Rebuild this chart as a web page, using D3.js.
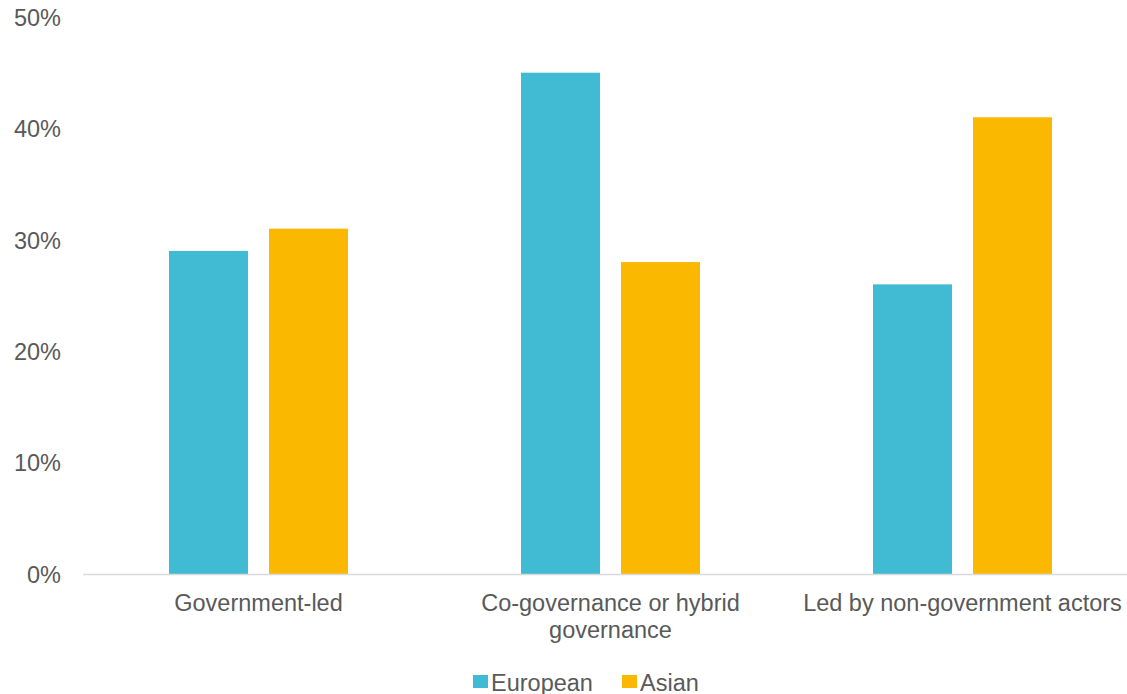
<!DOCTYPE html>
<html>
<head>
<meta charset="utf-8">
<script src="https://cdn.jsdelivr.net/npm/d3@7"></script>
<style>
  html, body { margin: 0; padding: 0; background: #fff; }
  svg { display: block; }
  text { font-family: "Liberation Sans", Arial, sans-serif; fill: #595959; }
</style>
</head>
<body>
<svg id="chart" width="1127" height="694"></svg>
<script>
// Share of initiatives by governance model, per region
const categories = ["Government-led", "Co-governance or hybrid governance", "Led by non-government actors"];
const categoryLines = [["Government-led"], ["Co-governance or hybrid", "governance"], ["Led by non-government actors"]];
const seriesNames = ["European", "Asian"];
const european = [29, 45, 26];
const asian = [31, 28, 41];
const yTicks = [0, 10, 20, 30, 40, 50];
const colors = ["#41BAD3", "#FAB800"];

const svg = d3.select("#chart");
const fontSize = 23.5;

const y = d3.scaleLinear().domain([0, 50]).range([574, 17]);
const x0 = d3.scaleBand().domain(categories).range([82.5, 1138.5]).padding(0);
const groupWidth = 179;
const x1 = d3.scaleBand().domain(seriesNames).range([0, groupWidth]).paddingInner(0.21).paddingOuter(0);

const values = [european, asian];

// y tick labels (no gridlines)
const yAxis = d3.axisLeft(y).tickValues(yTicks).tickFormat(d => d + "%").tickSize(0).tickPadding(0);
const gy = svg.append("g").attr("transform", "translate(61,0)").call(yAxis);
gy.select(".domain").remove();
gy.selectAll("text")
  .style("font-size", fontSize + "px")
  .style("font-family", "'Liberation Sans', Arial, sans-serif")
  .attr("fill", "#595959")
  .attr("dy", "0.35em");

// bars
categories.forEach((c, i) => {
  const gx = x0(c) + x0.bandwidth() / 2 - groupWidth / 2;
  seriesNames.forEach((s, j) => {
    svg.append("rect")
      .attr("x", gx + x1(s))
      .attr("y", y(values[j][i]))
      .attr("width", x1.bandwidth())
      .attr("height", y(0) - y(values[j][i]))
      .attr("fill", colors[j]);
  });
});

// category axis
const xAxis = d3.axisBottom(x0).tickSize(0).tickFormat("");
const gx = svg.append("g").attr("transform", `translate(0,${y(0)})`).call(xAxis);
gx.select(".domain").attr("stroke", "#d9d9d9").attr("stroke-width", 1.6);

categories.forEach((c, i) => {
  const t = svg.append("text")
    .attr("x", x0(c) + x0.bandwidth() / 2)
    .attr("y", 611)
    .attr("text-anchor", "middle")
    .style("font-size", fontSize + "px");
  categoryLines[i].forEach((line, k) => {
    t.append("tspan")
      .attr("x", x0(c) + x0.bandwidth() / 2)
      .attr("dy", k === 0 ? 0 : 27)
      .text(line);
  });
});

// legend
const legendItems = [{ name: "European", x: 473 }, { name: "Asian", x: 622 }];
legendItems.forEach((d, i) => {
  svg.append("rect")
    .attr("x", d.x).attr("y", 675)
    .attr("width", 15).attr("height", 13)
    .attr("fill", colors[i]);
  svg.append("text")
    .attr("x", d.x + 18).attr("y", 690.5)
    .style("font-size", fontSize + "px")
    .text(d.name);
});
</script>
</body>
</html>
